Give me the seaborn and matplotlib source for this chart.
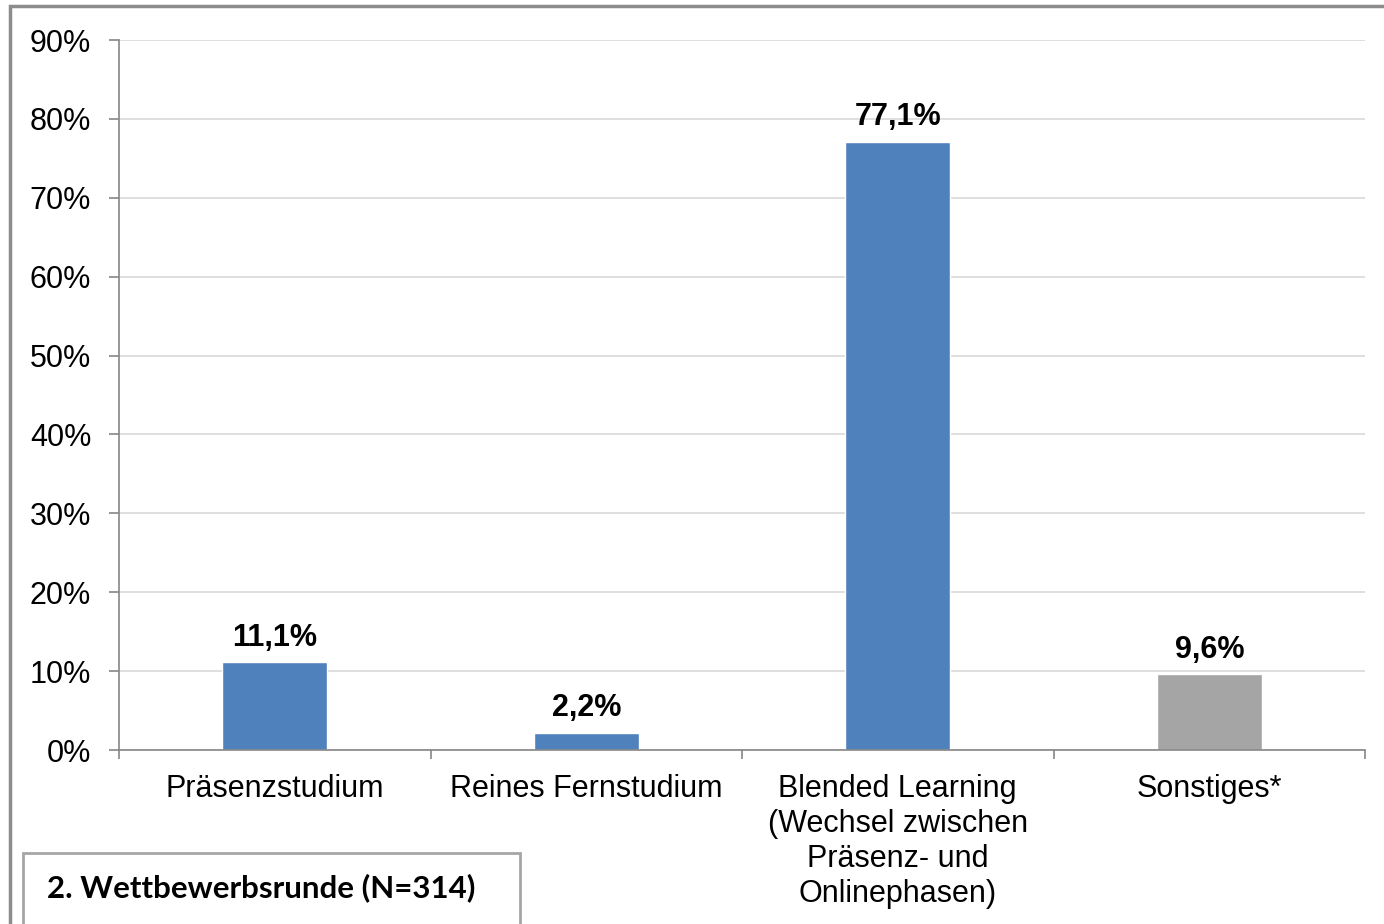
import numpy as np
import pandas as pd
import matplotlib
matplotlib.use("Agg")
import matplotlib.pyplot as plt
import seaborn as sns
from matplotlib.patches import Rectangle
from matplotlib.ticker import FixedLocator, PercentFormatter

# Data
CATEGORIES = ["Präsenzstudium", "Reines Fernstudium",
              "Blended Learning\n(Wechsel zwischen\nPräsenz- und\nOnlinephasen)",
              "Sonstiges*"]
VALUES = [11.1, 2.2, 77.1, 9.6]
VALUE_LABELS = ["11,1%", "2,2%", "77,1%", "9,6%"]
BAR_COLORS = ["#4f81bd", "#4f81bd", "#4f81bd", "#a5a5a5"]
Y_TICKS = [0, 10, 20, 30, 40, 50, 60, 70, 80, 90]
FOOTNOTE = "2. Wettbewerbsrunde (N=314)"

sns.set_style("white", {"xtick.bottom": True, "ytick.left": True})
plt.rcParams['font.family'] = ['Liberation Sans', 'DejaVu Sans']
plt.rcParams['text.color'] = 'black'

df = pd.DataFrame({"cat": CATEGORIES, "val": VALUES})

fig = plt.figure(figsize=(13.84, 9.24), dpi=100)
ax = fig.add_axes([119 / 1384, 1 - 750 / 924, (1365 - 119) / 1384, (750 - 40) / 924])

sns.barplot(data=df, x="cat", y="val", hue="cat", palette=BAR_COLORS,
            width=0.337, legend=False, ax=ax, saturation=1)

for cont, lab in zip(ax.containers, VALUE_LABELS):
    ax.bar_label(cont, labels=[lab], padding=7, fontsize=22, fontweight="bold",
                 color="black")

ax.set_xlim(-0.5, len(CATEGORIES) - 0.5)
ax.set_ylim(0, 90)
ax.yaxis.set_major_locator(FixedLocator(Y_TICKS))
ax.yaxis.set_major_formatter(PercentFormatter(decimals=0))
ax.grid(axis="y", color="#d9d9d9", linewidth=1.2)
ax.set_axisbelow(True)
ax.set_xlabel("")
ax.set_ylabel("")

# category labels without ticks, boundary ticks as minor ticks
ax.set_xticks(range(len(CATEGORIES)))
ax.set_xticklabels(CATEGORIES, fontsize=22, linespacing=1.22, va="top")
ax.set_xticks(np.arange(-0.5, len(CATEGORIES)), minor=True)
ax.tick_params(axis="x", which="major", length=0, pad=17, labelcolor="black")
ax.tick_params(axis="x", which="minor", bottom=True, length=6.5,
               color="#868686", width=1.2)
ax.tick_params(axis="y", which="major", left=True, length=7, color="#868686",
               width=1.2, labelsize=22, pad=13, labelcolor="black")

for side in ["top", "right"]:
    ax.spines[side].set_visible(False)
for side in ["left", "bottom"]:
    ax.spines[side].set_color("#868686")
    ax.spines[side].set_linewidth(1.2)

# outer frame
fig.patches.append(Rectangle((10 / 1384, -0.05), 1.2, 1 - 6 / 924 + 0.05,
                             transform=fig.transFigure, fill=False,
                             edgecolor="#8c8c8c", linewidth=2.5))
# footnote box
fig.patches.append(Rectangle((23 / 1384, -0.05), (520 - 23) / 1384,
                             1 - 853 / 924 + 0.05, transform=fig.transFigure,
                             fill=False, edgecolor="#a6a6a6", linewidth=2))
fig.text(47 / 1384, 1 - 888 / 924, FOOTNOTE, fontsize=22.5, fontweight="bold",
         family=["Lato", "DejaVu Sans"], va="center", ha="left", color="black")

fig.savefig("out.png", dpi=100)
